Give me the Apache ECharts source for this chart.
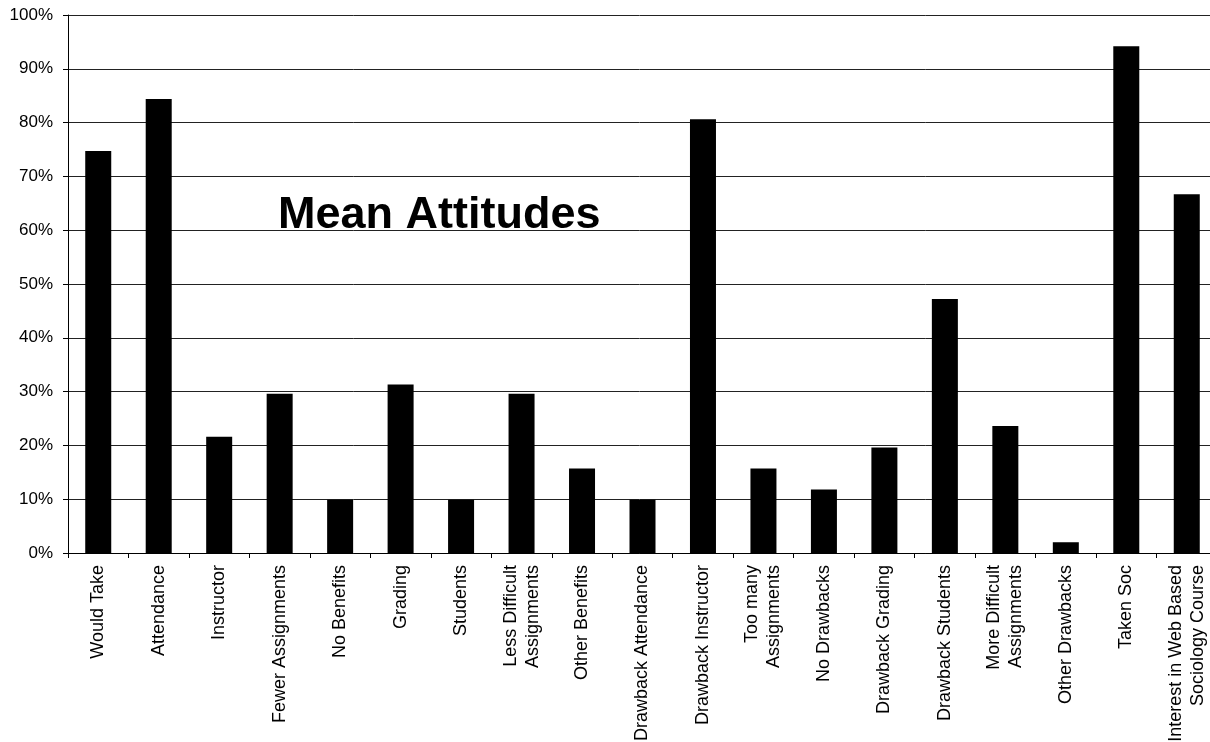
<!DOCTYPE html>
<html>
<head>
<meta charset="utf-8">
<script src="https://cdn.jsdelivr.net/npm/echarts@6/dist/echarts.min.js"></script>
<style>
  html, body { margin: 0; padding: 0; background: #fff; }
  #chart { width: 1210px; height: 742px; }
</style>
</head>
<body>
<div id="chart"></div>
<script>
// Survey items (x axis)
const categories = [
  'Would Take', 'Attendance', 'Instructor', 'Fewer Assignments', 'No Benefits',
  'Grading', 'Students', 'Less Difficult\nAssignments', 'Other Benefits',
  'Drawback Attendance', 'Drawback Instructor', 'Too many\nAssignments',
  'No Drawbacks', 'Drawback Grading', 'Drawback Students',
  'More Difficult\nAssignments', 'Other Drawbacks', 'Taken Soc',
  'Interest in Web Based\nSociology Course'
];

// Mean response, percent
const meanPercent = [
  74.7, 84.4, 21.6, 29.6, 9.9,
  31.3, 9.9, 29.6, 15.7,
  9.9, 80.6, 15.7,
  11.8, 19.6, 47.2,
  23.6, 2.0, 94.2,
  66.7
];

// Value axis ticks
const yMin = 0;
const yMax = 100;
const yStep = 10;

const titleText = 'Mean Attitudes';

const font = "'Liberation Sans', Arial, sans-serif";

const chart = echarts.init(document.getElementById('chart'), null, { renderer: 'canvas' });

chart.setOption({
  animation: false,
  backgroundColor: '#ffffff',
  title: {
    text: titleText,
    left: 278,
    top: 193,
    padding: 0,
    textStyle: {
      fontFamily: font,
      fontSize: 45,
      fontWeight: 'bold',
      color: '#000'
    }
  },
  grid: {
    left: 68,
    top: 15,
    width: 1149,
    height: 538,
    containLabel: false,
    outerBoundsMode: 'none'
  },
  xAxis: {
    type: 'category',
    data: categories,
    boundaryGap: true,
    axisLine: { show: true, lineStyle: { color: '#000', width: 1 } },
    axisTick: { show: true, alignWithLabel: false, length: 5, lineStyle: { color: '#000' } },
    axisLabel: {
      interval: 0,
      rotate: 90,
      margin: 12,
      hideOverlap: false,
      fontFamily: font,
      fontSize: 18,
      lineHeight: 22,
      color: '#000'
    },
    splitLine: { show: false }
  },
  yAxis: {
    type: 'value',
    min: yMin,
    max: yMax,
    interval: yStep,
    axisLine: { show: true, lineStyle: { color: '#000', width: 1 } },
    axisTick: { show: true, length: 5, lineStyle: { color: '#000' } },
    axisLabel: {
      formatter: '{value}%',
      margin: 15,
      fontFamily: font,
      fontSize: 17,
      color: '#000'
    },
    splitLine: { show: true, lineStyle: { color: '#222', width: 1 } }
  },
  series: [{
    type: 'bar',
    data: meanPercent,
    barWidth: '43%',
    itemStyle: { color: '#000' }
  }]
});
</script>
</body>
</html>
